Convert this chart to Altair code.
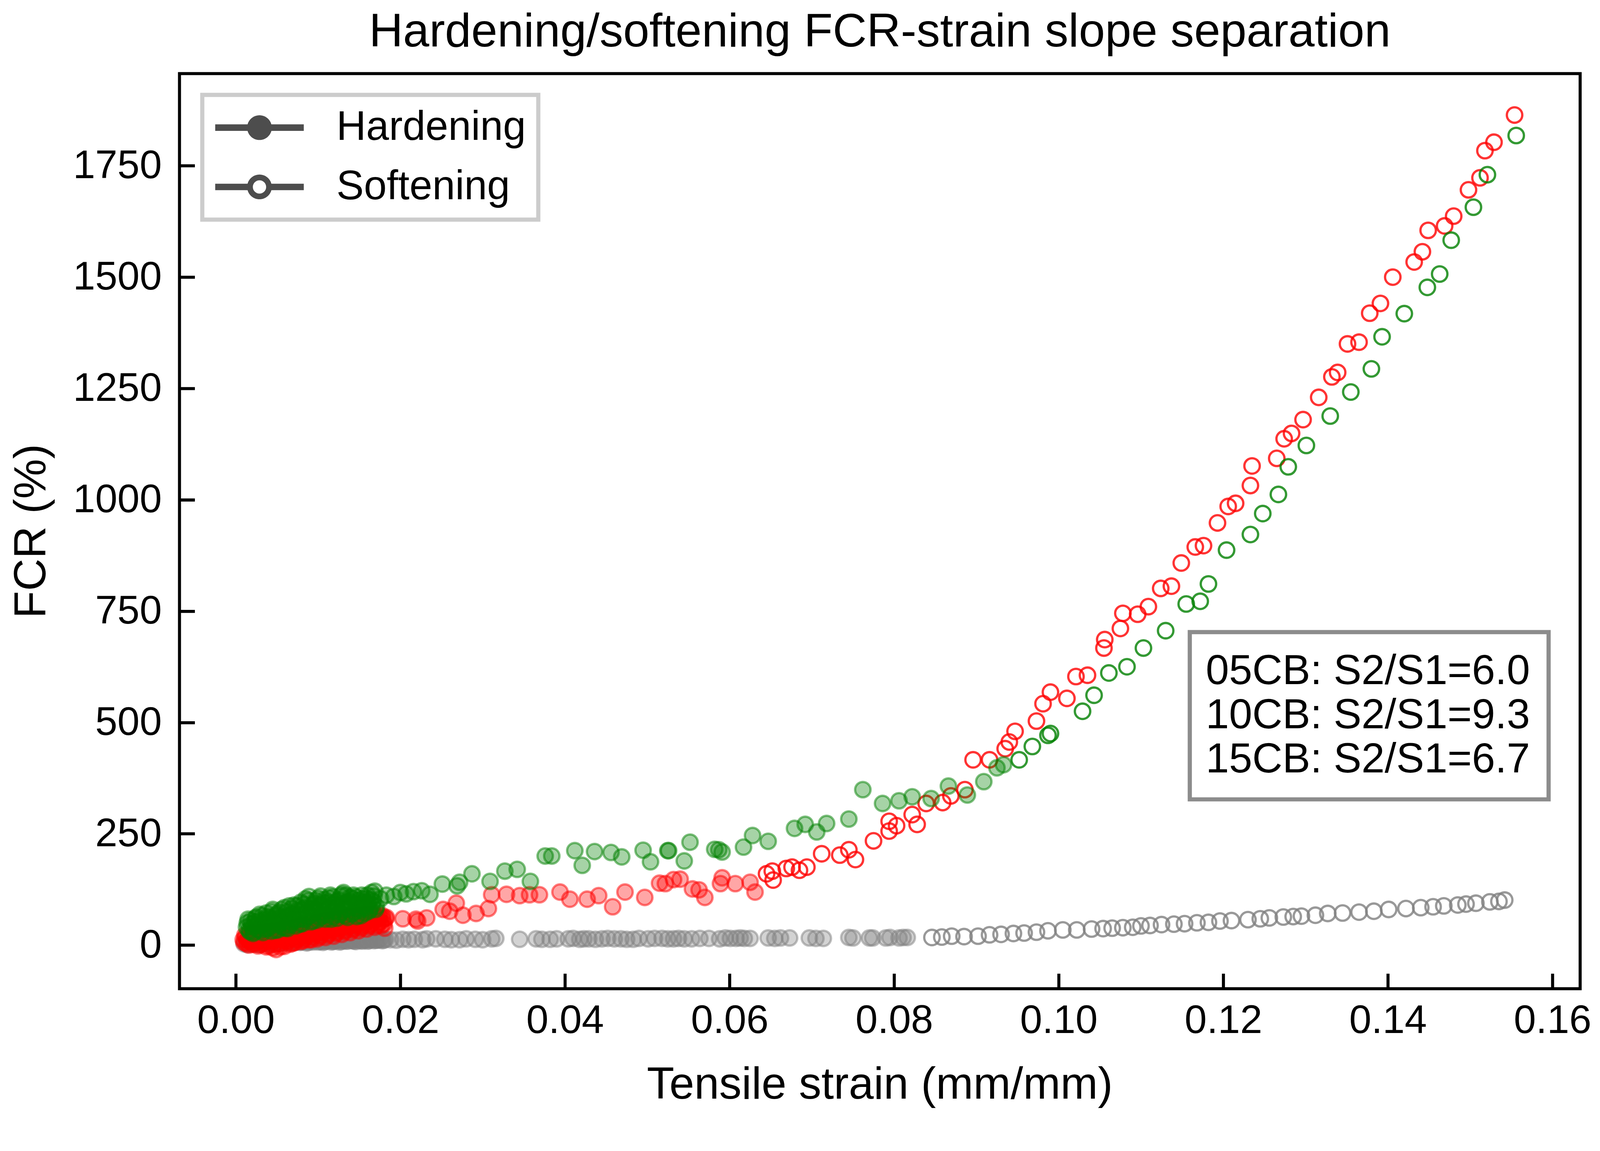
import altair as alt
import pandas as pd

FONT = "Liberation Sans"

# ---------------- data ----------------
samples = ["05CB", "10CB", "15CB"]
sample_colors = ["#808080", "#ff0000", "#008000"]
slope_ratios = ["6.0", "9.3", "6.7"]
phases = ["Hardening", "Softening"]

x_ticks = [0.00, 0.02, 0.04, 0.06, 0.08, 0.10, 0.12, 0.14, 0.16]
y_ticks = [0, 250, 500, 750, 1000, 1250, 1500, 1750]

# 05CB (gray) - hardening
gray_h_x = [0.0010, 0.0014, 0.0018, 0.0022, 0.0026, 0.0030, 0.0034, 0.0038, 0.0042, 0.0046,
            0.0050, 0.0054, 0.0058, 0.0062, 0.0066, 0.0070, 0.0074, 0.0078, 0.0082, 0.0086,
            0.0090, 0.0094, 0.0098, 0.0102, 0.0106, 0.0110, 0.0114, 0.0118, 0.0122, 0.0126,
            0.0130, 0.0134, 0.0138, 0.0142, 0.0146, 0.0150, 0.0154, 0.0158, 0.0162, 0.0166,
            0.0170, 0.0174, 0.0178, 0.0182, 0.0188, 0.0195, 0.0203, 0.0210,
            0.0217, 0.0227, 0.0232, 0.0243, 0.0254, 0.0262, 0.0272, 0.0280, 0.0291, 0.0300,
            0.0311, 0.0316, 0.0345, 0.0365, 0.0372, 0.0382, 0.0390, 0.0404, 0.0410, 0.0418,
            0.0423, 0.0429, 0.0437, 0.0445, 0.0452, 0.0460, 0.0468, 0.0475, 0.0483, 0.0490,
            0.0501, 0.0509, 0.0518, 0.0525, 0.0532, 0.0538, 0.0545, 0.0554, 0.0564, 0.0575,
            0.0588, 0.0595, 0.0601, 0.0608, 0.0613, 0.0618, 0.0625, 0.0647, 0.0655, 0.0662,
            0.0673, 0.0697, 0.0705, 0.0714, 0.0745, 0.0750, 0.0770, 0.0774, 0.0790, 0.0795,
            0.0806, 0.0811, 0.0816]
gray_h_y = [3, 1, 4, 2, 5, 3, 6, 4, 2, 5,
            7, 4, 6, 8, 5, 7, 9, 6, 8, 5,
            9, 7, 10, 8, 6, 9, 11, 8, 10, 7,
            11, 9, 12, 10, 8, 11, 9, 12, 10, 13,
            11, 12, 10, 13, 12, 11, 13, 12,
            13, 12, 14, 14, 13, 12, 12, 14, 13, 12,
            14, 15, 13, 14, 13, 13, 14, 14, 15, 13,
            14, 14, 13, 14, 15, 14, 14, 13, 13, 15,
            14, 15, 15, 14, 14, 15, 14, 14, 15, 15,
            14, 16, 15, 15, 16, 15, 15, 16, 15, 16,
            16, 16, 15, 15, 17, 16, 16, 16, 16, 17,
            16, 17, 17]
# 05CB (gray) - hardening, second pass through the dense start cluster
gray_h2_x = [0.0012, 0.0016, 0.0020, 0.0024, 0.0028, 0.0032, 0.0036, 0.0040, 0.0044, 0.0048,
             0.0052, 0.0056, 0.0060, 0.0064, 0.0068, 0.0072, 0.0076, 0.0080, 0.0084, 0.0088,
             0.0092, 0.0096, 0.0100, 0.0104, 0.0108, 0.0112, 0.0116, 0.0120, 0.0124, 0.0128,
             0.0132, 0.0136, 0.0140, 0.0144, 0.0148, 0.0152, 0.0156, 0.0160, 0.0164, 0.0168,
             0.0172, 0.0176, 0.0180]
gray_h2_y = [4, 2, 5, 3, 1, 4, 6, 3, 5, 7,
             4, 6, 5, 7, 9, 6, 8, 7, 9, 6,
             8, 10, 7, 9, 8, 10, 7, 9, 11, 8,
             10, 9, 11, 9, 12, 10, 11, 9, 12, 10,
             11, 13, 11]
# 05CB (gray) - softening
gray_s_x = [0.0846, 0.0858, 0.0870, 0.0885, 0.0902, 0.0916, 0.0930, 0.0945, 0.0958, 0.0973,
            0.0987, 0.1005, 0.1022, 0.1040, 0.1054, 0.1065, 0.1078, 0.1090, 0.1100, 0.1111,
            0.1125, 0.1140, 0.1153, 0.1168, 0.1182, 0.1196, 0.1210, 0.1230, 0.1245, 0.1256,
            0.1273, 0.1285, 0.1295, 0.1312, 0.1327, 0.1345, 0.1365, 0.1383, 0.1401, 0.1422,
            0.1440, 0.1455, 0.1468, 0.1485, 0.1495, 0.1507, 0.1524, 0.1535, 0.1542]
gray_s_y = [17, 18, 20, 19, 20, 23, 24, 26, 27, 29,
            32, 34, 34, 36, 37, 38, 39, 40, 43, 44,
            46, 47, 48, 50, 51, 54, 55, 57, 59, 61,
            63, 64, 65, 67, 71, 72, 74, 76, 80, 82,
            84, 86, 88, 90, 92, 94, 97, 98, 101]

# 10CB (red) - hardening
red_h_x = [0.0009, 0.0011, 0.0013, 0.0015, 0.0017, 0.0019, 0.0021, 0.0023, 0.0025, 0.0027,
           0.0029, 0.0031, 0.0033, 0.0035, 0.0037, 0.0039, 0.0041, 0.0043, 0.0045, 0.0047,
           0.0049, 0.0051, 0.0053, 0.0055, 0.0057, 0.0059, 0.0061, 0.0063, 0.0065, 0.0067,
           0.0069, 0.0071, 0.0073, 0.0075, 0.0077, 0.0079, 0.0081, 0.0083, 0.0085, 0.0087,
           0.0089, 0.0091, 0.0093, 0.0095, 0.0097, 0.0099, 0.0101, 0.0103, 0.0105, 0.0107,
           0.0109, 0.0111, 0.0113, 0.0115, 0.0117, 0.0119, 0.0121, 0.0123, 0.0125, 0.0127,
           0.0129, 0.0131, 0.0133, 0.0135, 0.0137, 0.0139, 0.0141, 0.0143, 0.0145, 0.0147,
           0.0149, 0.0151, 0.0153, 0.0155, 0.0157, 0.0159, 0.0161, 0.0163, 0.0165, 0.0167,
           0.0169, 0.0171, 0.0173, 0.0175, 0.0177, 0.0179, 0.0181, 0.0183,
           0.0203, 0.0219, 0.0221, 0.0232, 0.0252, 0.0260, 0.0268, 0.0276, 0.0292, 0.0307,
           0.0311, 0.0329, 0.0345, 0.0357, 0.0369, 0.0394, 0.0406, 0.0427, 0.0441, 0.0458,
           0.0473, 0.0497, 0.0515, 0.0522, 0.0532, 0.0540, 0.0555, 0.0563, 0.0570, 0.0589,
           0.0591, 0.0607, 0.0625, 0.0631]
red_h_y = [12, 22, 4, 16, 8, 26, 2, 14, 20, -2,
           10, 28, 5, 18, -4, 24, 9, 30, -6, 15,
           -10, 22, 3, 33, 12, -3, 26, 8, 36, 16,
           4, 30, 11, 40, 20, 8, 34, 14, 44, 24,
           12, 38, 18, 48, 28, 14, 42, 22, 52, 32,
           17, 46, 26, 55, 36, 20, 50, 30, 58, 40,
           24, 54, 34, 62, 44, 28, 57, 38, 64, 47,
           32, 60, 42, 66, 50, 36, 62, 46, 68, 54,
           40, 64, 50, 66, 44, 58, 38, 62,
           59, 58, 54, 61, 80, 76, 94, 67, 71, 82,
           113, 114, 111, 113, 113, 119, 103, 103, 111, 86,
           119, 107, 139, 138, 147, 148, 126, 124, 107, 138,
           151, 138, 141, 119]
# 10CB (red) - hardening, second pass through the dense start cluster
red_h2_x = [0.0010, 0.0012, 0.0014, 0.0016, 0.0018, 0.0020, 0.0022, 0.0024, 0.0026, 0.0028,
            0.0030, 0.0032, 0.0034, 0.0036, 0.0038, 0.0040, 0.0042, 0.0044, 0.0046, 0.0048,
            0.0050, 0.0052, 0.0054, 0.0056, 0.0058, 0.0060, 0.0062, 0.0064, 0.0066, 0.0068,
            0.0070, 0.0072, 0.0074, 0.0076, 0.0078, 0.0080, 0.0082, 0.0084, 0.0086, 0.0088,
            0.0090, 0.0092, 0.0094, 0.0096, 0.0098, 0.0100, 0.0102, 0.0104, 0.0106, 0.0108,
            0.0110, 0.0112, 0.0114, 0.0116, 0.0118, 0.0120, 0.0122, 0.0124, 0.0126, 0.0128,
            0.0130, 0.0132, 0.0134, 0.0136, 0.0138, 0.0140, 0.0142, 0.0144, 0.0146, 0.0148,
            0.0150, 0.0152, 0.0154, 0.0156, 0.0158, 0.0160, 0.0162, 0.0164, 0.0166, 0.0168,
            0.0170, 0.0172, 0.0174, 0.0176, 0.0178, 0.0180, 0.0182]
red_h2_y = [6, 18, 10, 0, 20, 12, 24, 6, 16, 26,
            1, 14, 22, 8, 30, -2, 18, 26, 10, 2,
            30, 14, -4, 24, 36, 10, 18, 28, 2, 38,
            22, 6, 26, 14, 42, 30, 10, 36, 20, 46,
            28, 12, 40, 24, 50, 34, 18, 44, 28, 54,
            36, 22, 48, 32, 58, 40, 26, 52, 36, 60,
            44, 30, 56, 40, 64, 48, 34, 60, 44, 66,
            52, 38, 62, 46, 68, 56, 42, 64, 50, 70,
            58, 44, 62, 52, 66, 48, 60]
# 10CB (red) - softening
red_s_x = [0.0645, 0.0653, 0.0652, 0.0669, 0.0676, 0.0685, 0.0694, 0.0712, 0.0734, 0.0745,
           0.0753, 0.0775, 0.0794, 0.0794, 0.0803, 0.0822, 0.0828, 0.0839, 0.0859, 0.0869,
           0.0886, 0.0896, 0.0916, 0.0935, 0.0940, 0.0947, 0.0973, 0.0981, 0.0990, 0.1010,
           0.1021, 0.1035, 0.1055, 0.1056, 0.1075, 0.1078, 0.1096, 0.1109, 0.1124, 0.1137,
           0.1149, 0.1166, 0.1176, 0.1193, 0.1206, 0.1215, 0.1233, 0.1235, 0.1265, 0.1274,
           0.1283, 0.1297, 0.1316, 0.1332, 0.1339, 0.1351, 0.1365, 0.1378, 0.1391, 0.1406,
           0.1432, 0.1442, 0.1449, 0.1469, 0.1480, 0.1498, 0.1512, 0.1518, 0.1529, 0.1554]
red_s_y = [160, 146, 166, 172, 175, 168, 175, 205, 202, 214,
           192, 234, 278, 256, 268, 293, 271, 318, 320, 335,
           349, 416, 416, 441, 456, 480, 503, 542, 568, 554,
           603, 606, 667, 686, 711, 745, 743, 760, 801, 806,
           858, 894, 897, 948, 985, 992, 1032, 1076, 1093, 1137,
           1149, 1180, 1230, 1276, 1286, 1350, 1354, 1419, 1441, 1500,
           1534, 1557, 1605, 1615, 1637, 1696, 1723, 1784, 1803, 1864]

# 15CB (green) - hardening
green_h_x = [0.0013, 0.0015, 0.0017, 0.0019, 0.0021, 0.0023, 0.0025, 0.0027, 0.0029, 0.0031,
             0.0033, 0.0035, 0.0037, 0.0039, 0.0041, 0.0043, 0.0045, 0.0047, 0.0049, 0.0051,
             0.0053, 0.0055, 0.0057, 0.0059, 0.0061, 0.0063, 0.0065, 0.0067, 0.0069, 0.0071,
             0.0073, 0.0075, 0.0077, 0.0079, 0.0081, 0.0083, 0.0085, 0.0087, 0.0089, 0.0091,
             0.0093, 0.0095, 0.0097, 0.0099, 0.0101, 0.0103, 0.0105, 0.0107, 0.0109, 0.0111,
             0.0113, 0.0115, 0.0117, 0.0119, 0.0121, 0.0123, 0.0125, 0.0127, 0.0129, 0.0131,
             0.0133, 0.0135, 0.0137, 0.0139, 0.0141, 0.0143, 0.0145, 0.0147, 0.0149, 0.0151,
             0.0153, 0.0155, 0.0157, 0.0159, 0.0161, 0.0163, 0.0165, 0.0167, 0.0169, 0.0171,
             0.0176, 0.0183, 0.0192, 0.0200, 0.0207, 0.0216, 0.0226, 0.0236, 0.0251, 0.0269,
             0.0272, 0.0287, 0.0309, 0.0327, 0.0342, 0.0358, 0.0376, 0.0384, 0.0412, 0.0421,
             0.0436, 0.0456, 0.0469, 0.0495, 0.0504, 0.0525, 0.0526, 0.0545, 0.0552, 0.0582,
             0.0587, 0.0591, 0.0617, 0.0628, 0.0647, 0.0679, 0.0692, 0.0706, 0.0718, 0.0745,
             0.0762, 0.0786, 0.0806, 0.0822, 0.0845, 0.0866, 0.0889, 0.0909, 0.0925, 0.0933]
green_h_y = [40, 58, 30, 47, 26, 52, 63, 35, 69, 44,
             28, 57, 72, 38, 61, 31, 80, 49, 66, 34,
             74, 55, 40, 84, 62, 37, 88, 51, 70, 90,
             43, 77, 58, 96, 48, 83, 104, 63, 109, 52,
             90, 72, 100, 56, 86, 110, 66, 95, 58, 78,
             106, 112, 64, 92, 84, 60, 101, 73, 114, 118,
             66, 96, 82, 107, 70, 112, 91, 64, 100, 78,
             112, 88, 72, 105, 95, 80, 118, 98, 121, 86,
             104, 112, 109, 118, 115, 120, 122, 114, 137, 133,
             141, 160, 143, 166, 170, 143, 200, 200, 212, 179,
             210, 208, 198, 213, 187, 212, 212, 189, 231, 215,
             214, 209, 220, 246, 233, 262, 271, 254, 273, 283,
             349, 318, 324, 333, 329, 357, 337, 367, 398, 405]
# 15CB (green) - hardening, second pass through the dense start cluster
green_h2_x = [0.0014, 0.0016, 0.0018, 0.0020, 0.0022, 0.0024, 0.0026, 0.0028, 0.0030, 0.0032,
              0.0034, 0.0036, 0.0038, 0.0040, 0.0042, 0.0044, 0.0046, 0.0048, 0.0050, 0.0052,
              0.0054, 0.0056, 0.0058, 0.0060, 0.0062, 0.0064, 0.0066, 0.0068, 0.0070, 0.0072,
              0.0074, 0.0076, 0.0078, 0.0080, 0.0082, 0.0084, 0.0086, 0.0088, 0.0090, 0.0092,
              0.0094, 0.0096, 0.0098, 0.0100, 0.0102, 0.0104, 0.0106, 0.0108, 0.0110, 0.0112,
              0.0114, 0.0116, 0.0118, 0.0120, 0.0122, 0.0124, 0.0126, 0.0128, 0.0130, 0.0132,
              0.0134, 0.0136, 0.0138, 0.0140, 0.0142, 0.0144, 0.0146, 0.0148, 0.0150, 0.0152,
              0.0154, 0.0156, 0.0158, 0.0160, 0.0162, 0.0164, 0.0166, 0.0168, 0.0170]
green_h2_y = [50, 33, 55, 41, 29, 60, 45, 54, 32, 66,
              49, 36, 64, 53, 42, 75, 58, 33, 70, 46,
              62, 80, 52, 38, 75, 66, 45, 82, 60, 55,
              88, 68, 47, 79, 92, 58, 73, 100, 66, 82,
              54, 94, 78, 105, 62, 90, 74, 102, 68, 96,
              84, 58, 108, 76, 98, 88, 68, 110, 92, 80,
              112, 62, 98, 86, 104, 74, 108, 94, 82, 66,
              104, 96, 84, 112, 76, 102, 90, 110, 80]
# 15CB (green) - softening
green_s_x = [0.0952, 0.0968, 0.0987, 0.0990, 0.1029, 0.1043, 0.1061, 0.1083, 0.1103, 0.1130,
             0.1155, 0.1172, 0.1182, 0.1204, 0.1233, 0.1248, 0.1267, 0.1279, 0.1301, 0.1330,
             0.1355, 0.1380, 0.1393, 0.1420, 0.1448, 0.1463, 0.1477, 0.1504, 0.1521, 0.1556]
green_s_y = [416, 446, 471, 475, 525, 561, 611, 625, 667, 706,
             766, 772, 811, 887, 922, 969, 1012, 1074, 1122, 1188,
             1242, 1294, 1366, 1418, 1477, 1507, 1583, 1657, 1730, 1818]

records = []


def add(sample, phase, xs, ys):
    for xv, yv in zip(xs, ys):
        records.append({"sample": sample, "phase": phase, "strain": xv, "fcr": yv})


add(samples[0], phases[0], gray_h_x, gray_h_y)
add(samples[0], phases[0], gray_h2_x, gray_h2_y)
add(samples[0], phases[1], gray_s_x, gray_s_y)
add(samples[1], phases[0], red_h_x, red_h_y)
add(samples[1], phases[0], red_h2_x, red_h2_y)
add(samples[1], phases[1], red_s_x, red_s_y)
add(samples[2], phases[0], green_h_x, green_h_y)
add(samples[2], phases[0], green_h2_x, green_h2_y)
add(samples[2], phases[1], green_s_x, green_s_y)
df = pd.DataFrame(records)

# ---------------- encodings ----------------
TICK = 40
x_enc = alt.X(
    "strain:Q",
    title="Tensile strain (mm/mm)",
    scale=alt.Scale(domain=[-0.00684, 0.16337], nice=False, zero=False),
    axis=alt.Axis(
        values=x_ticks, format=".2f", grid=False, domain=False,
        offset=-TICK, tickSize=TICK, tickWidth=8, tickColor="black",
        labelPadding=33, labelFontSize=105, labelFont=FONT, labelColor="black",
        labelFlush=False, labelOverlap=False, labelLimit=1000,
        titleFontSize=118, titleFont=FONT, titleFontWeight="normal", titleColor="black",
        titleBaseline="alphabetic", titleAlign="center", titleX=1842, titleY=329,
    ),
)
y_enc = alt.Y(
    "fcr:Q",
    title="FCR (%)",
    scale=alt.Scale(domain=[-98, 1957], nice=False, zero=False),
    axis=alt.Axis(
        values=y_ticks, format="d", grid=False, domain=False,
        offset=-TICK, tickSize=TICK, tickWidth=8, tickColor="black",
        labelPadding=47, labelFontSize=105, labelFont=FONT, labelColor="black",
        labelFlush=False, labelOverlap=False, labelLimit=1000,
        titleFontSize=118, titleFont=FONT, titleFontWeight="normal", titleColor="black",
        titleBaseline="alphabetic", titleAlign="center", titleAngle=270,
        titleX=-394, titleY=1203,
    ),
)

label_expr = " : ".join(
    f"datum.label == '{s}' ? '{s}: S2/S1={r}'" for s, r in zip(samples, slope_ratios)
) + " : datum.label"

points = alt.Chart(df).mark_point(
    filled=True, shape="circle", size=1650, strokeWidth=6, opacity=1
).encode(
    x=x_enc,
    y=y_enc,
    color=alt.Color(
        "sample:N",
        scale=alt.Scale(domain=samples, range=sample_colors),
        legend=alt.Legend(
            title=None, orient="none", legendX=2658, legendY=1469,
            direction="vertical", labelExpr=label_expr,
            symbolSize=0, symbolOpacity=0, symbolStrokeWidth=0,
            labelAlign="right", labelOffset=736,
            labelFontSize=110, labelFont=FONT, labelColor="black",
            labelLimit=3000, rowPadding=6, padding=49,
            strokeColor="#8c8c8c", fillColor="white", cornerRadius=0,
        ),
    ),
    stroke=alt.Stroke("sample:N", scale=alt.Scale(domain=samples, range=sample_colors), legend=None),
    fillOpacity=alt.FillOpacity("phase:N", scale=alt.Scale(domain=phases, range=[0.35, 0.0]), legend=None),
    strokeOpacity=alt.StrokeOpacity("phase:N", scale=alt.Scale(domain=phases, range=[0.5, 0.8]), legend=None),
)

# legend symbols drawn as filled shapes (path units: 45 px):
# a horizontal bar with a filled disk (Hardening) or a ring (Softening) on it
half_line = 2.589
half_thick = 0.189
r_out = 0.722
r_in = 0.389
gap = 0.55


def circle_path(rad, sweep):
    return f"M{rad},0A{rad},{rad},0,1,{sweep},{-rad},0A{rad},{rad},0,1,{sweep},{rad},0Z"


def rect_path(x1, y1, x2, y2):
    return f"M{x1},{y1}L{x2},{y1}L{x2},{y2}L{x1},{y2}Z"


path_hard = rect_path(-half_line, -half_thick, half_line, half_thick) + circle_path(r_out, 1)
path_soft = (rect_path(-half_line, -half_thick, -gap, half_thick)
             + rect_path(gap, -half_thick, half_line, half_thick)
             + circle_path(r_out, 1) + circle_path(r_in, 0))

legend_layer = alt.Chart(df).transform_filter(
    "datum.fcr > 100000"
).mark_point(
    filled=True, fill="#4d4d4d", fillOpacity=1, strokeWidth=0,
).encode(
    x=x_enc,
    y=y_enc,
    shape=alt.Shape(
        "phase:N",
        scale=alt.Scale(domain=phases, range=[path_hard, path_soft]),
        legend=alt.Legend(
            title=None, orient="none", legendX=60, legendY=56, direction="vertical",
            symbolSize=90 * 90, symbolStrokeWidth=0,
            symbolFillColor="#4d4d4d", symbolOpacity=1, symbolOffset=64.5,
            labelOffset=148.5, labelFontSize=108, labelFont=FONT, labelColor="black",
            labelLimit=3000, rowPadding=48, padding=32,
            strokeColor="#cccccc", fillColor="white", cornerRadius=0,
        ),
    ),
)

chart = alt.layer(legend_layer, points).properties(
    width=3685,
    height=2407,
    autosize=alt.AutoSizeParams(type="none"),
    padding={"left": 464, "top": 145, "right": 44, "bottom": 370},
    title=alt.TitleParams(
        "Hardening/softening FCR-strain slope separation",
        fontSize=124, font=FONT, fontWeight="normal", color="black",
        anchor="middle", frame="group", baseline="alphabetic", offset=-53,
    ),
).configure_view(
    stroke="black", strokeWidth=8
).configure_legend(
    strokeWidth=11
)

chart.save("out.html", embed_options={"renderer": "svg", "actions": False})
